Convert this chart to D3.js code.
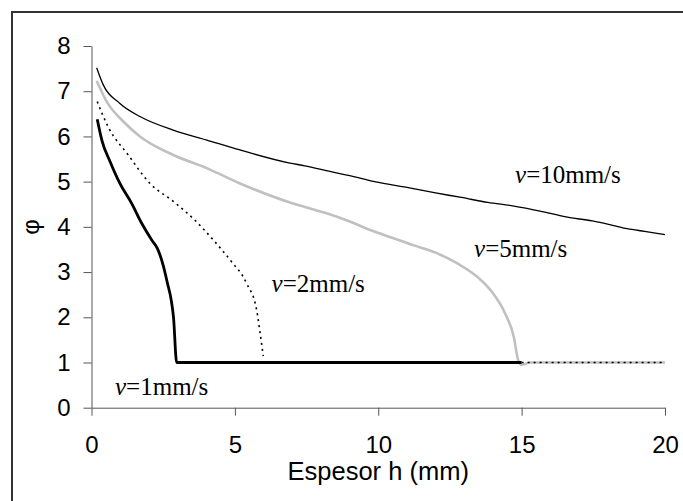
<!DOCTYPE html>
<html>
<head>
<meta charset="utf-8">
<script src="https://cdn.jsdelivr.net/npm/d3@7"></script>
<style>
	body { margin: 0; background: #fff; }
	.tick text { font-family: "Liberation Sans", Arial, sans-serif; font-size: 24px; fill: #000; }
	.curve-label { font-family: "Liberation Serif", "Times New Roman", serif; font-size: 25px; fill: #000; }
</style>
</head>
<body>
<div id="chart"></div>
<script>
(function() {
	"use strict";

	// espesor h (mm) vs phi
	var v1 = [[0.2, 6.38], [0.36, 5.92], [0.65, 5.44], [0.99, 4.96], [1.4, 4.52], [1.75, 4.08],
		[2.1, 3.71], [2.3, 3.52], [2.5, 3.15], [2.65, 2.75], [2.78, 2.38], [2.86, 2.0],
		[2.97, 1.0], [15, 1.0]];
	var v2 = [[0.2, 6.77], [0.59, 6.2], [1.28, 5.59], [2.04, 4.96], [2.88, 4.55], [3.6, 4.15],
		[4.22, 3.73], [4.83, 3.27], [5.41, 2.75], [5.76, 2.16], [5.88, 1.65], [5.99, 1.14],
		null, [15, 1.0], [20, 1.0]];
	var v5 = [[0.18, 7.23], [0.53, 6.77], [1.11, 6.33], [1.69, 6.0], [2.85, 5.59], [4.02, 5.3],
		[5.18, 4.96], [6.92, 4.54], [7.44, 4.44], [8.2, 4.3], [8.96, 4.13], [9.72, 3.93],
		[10.48, 3.76], [11.24, 3.59], [12.0, 3.43], [12.76, 3.19], [13.52, 2.86], [13.97, 2.56],
		[14.43, 2.08], [14.73, 1.56], [14.88, 1.05], [15.0, 0.95], [15.3, 1.0], [20, 1.0]];
	var v10 = [[0.18, 7.52], [0.41, 7.14], [0.99, 6.73], [1.69, 6.44], [2.85, 6.14], [4.02, 5.92],
		[5.18, 5.7], [6.92, 5.41], [7.44, 5.35], [8.35, 5.22], [8.96, 5.14], [9.87, 5.0],
		[11.09, 4.86], [12.0, 4.75], [12.9, 4.65], [13.82, 4.54], [14.73, 4.46], [15.64, 4.35],
		[16.55, 4.22], [17.46, 4.13], [18.07, 4.05], [18.68, 3.96], [19.29, 3.9], [20, 3.83]];

	var xTicks = [0, 5, 10, 15, 20];
	var yTicks = [0, 1, 2, 3, 4, 5, 6, 7, 8];
	var labels = [
		{ speed: '10', h: 14.77, phi: 4.97 },
		{ speed: '5', h: 13.34, phi: 3.34 },
		{ speed: '2', h: 6.28, phi: 2.57 },
		{ speed: '1', h: 0.82, phi: 0.27 }
	];

	var width = 683, height = 501;
	var margin = { left: 91.5, right: 18, top: 46, bottom: 93.3 };

	var svg = d3.select('#chart')
		.append('svg')
		.attr('width', width)
		.attr('height', height);

	svg.append('rect')
		.attr('x', 12)
		.attr('y', 12)
		.attr('width', width + 10)
		.attr('height', height + 10)
		.attr('fill', 'none')
		.attr('stroke', '#333')
		.attr('stroke-width', 2);

	var x = d3.scaleLinear().domain([0, 20]).range([margin.left, width - margin.right]);
	var y = d3.scaleLinear().domain([0, 8]).range([height - margin.bottom, margin.top]);

	var xAxis = svg.append('g')
		.attr('transform', 'translate(0,' + y(0) + ')')
		.call(d3.axisBottom(x).tickValues(xTicks).tickSize(8).tickPadding(20.5).tickSizeOuter(0));
	var yAxis = svg.append('g')
		.attr('transform', 'translate(' + x(0) + ',0)')
		.call(d3.axisLeft(y).tickValues(yTicks).tickSize(8).tickPadding(13).tickSizeOuter(0));

	[xAxis, yAxis].forEach(function (axis) {
		axis.select('.domain').attr('stroke', '#555');
		axis.selectAll('.tick line').attr('stroke', '#555');
		axis.selectAll('.tick text').attr('font-size', null).attr('font-family', null);
	});

	svg.append('text')
		.attr('x', (x(0) + x(20)) / 2)
		.attr('y', 480)
		.attr('text-anchor', 'middle')
		.style('font-family', '"Liberation Sans", Arial, sans-serif')
		.style('font-size', '25.5px')
		.text('Espesor h (mm)');

	svg.append('text')
		.attr('transform', 'translate(39,' + y(4) + ') rotate(-90)')
		.attr('text-anchor', 'middle')
		.style('font-family', '"Liberation Sans", Arial, sans-serif')
		.style('font-size', '24px')
		.text('φ');

	var line = d3.line()
		.defined(function (d) { return d !== null; })
		.curve(d3.curveMonotoneX)
		.x(function (d) { return x(d[0]); })
		.y(function (d) { return y(d[1]); });

	var series = [
		{ data: v5, color: '#c0c0c0', width: 2.6, dash: null },
		{ data: v10, color: '#000', width: 1.3, dash: null },
		{ data: v1, color: '#000', width: 2.8, dash: null },
		{ data: v2, color: '#000', width: 1.6, dash: '2,4' }
	];

	svg.selectAll('.curve')
		.data(series)
		.enter()
		.append('path')
		.classed('curve', true)
		.attr('fill', 'none')
		.attr('stroke', function (s) { return s.color; })
		.attr('stroke-width', function (s) { return s.width; })
		.attr('stroke-dasharray', function (s) { return s.dash; })
		.attr('d', function (s) { return line(s.data); });

	var txt = svg.selectAll('.curve-label')
		.data(labels)
		.enter()
		.append('text')
		.classed('curve-label', true)
		.attr('x', function (d) { return x(d.h); })
		.attr('y', function (d) { return y(d.phi); });
	txt.append('tspan').style('font-style', 'italic').text('v');
	txt.append('tspan').text(function (d) { return '=' + d.speed + 'mm/s'; });
}());
</script>
</body>
</html>
